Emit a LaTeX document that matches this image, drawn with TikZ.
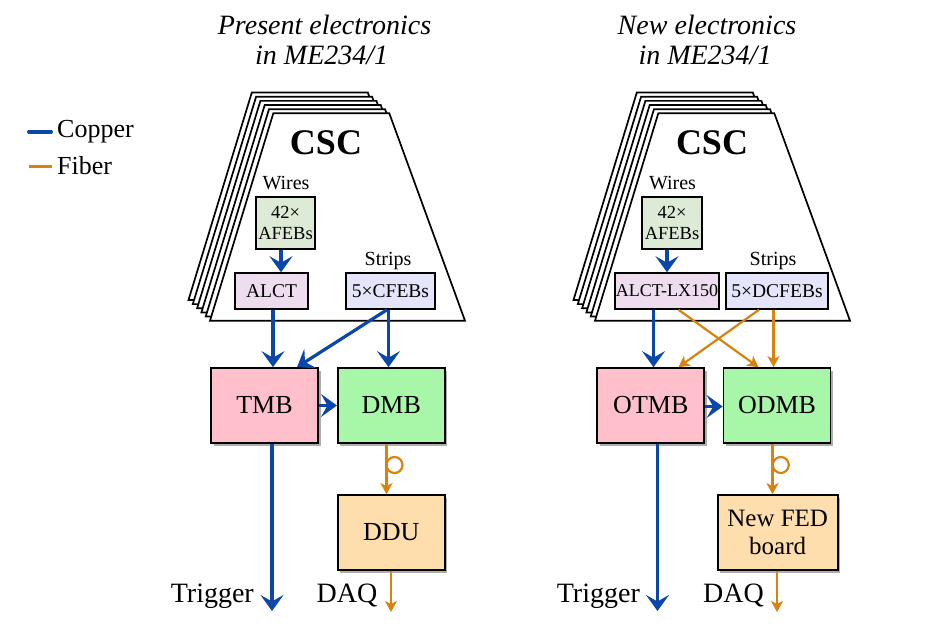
\documentclass[tikz,border=0pt]{standalone}
\usepackage{fontspec}
\setmainfont{Liberation Serif}
\usetikzlibrary{arrows.meta,shadows,calc}
\definecolor{cu}{HTML}{0A47A8}
\definecolor{fb}{HTML}{D9830F}
\definecolor{afebc}{HTML}{DCEAD6}
\definecolor{alctc}{HTML}{EEDDEE}
\definecolor{cfebc}{HTML}{E4E4FA}
\definecolor{tmbc}{HTML}{FFC0CB}
\definecolor{dmbc}{HTML}{A8F7A8}
\definecolor{dduc}{HTML}{FFDEAD}
\tikzset{
  fs/.style={font=\fontsize{#1}{#1}\selectfont},
  bigbox/.style={draw=black, line width=1.7pt, inner sep=0pt, minimum height=75pt,
     fs=26, align=center,
     drop shadow={shadow xshift=2.5pt, shadow yshift=-2.5pt, opacity=0.45, fill=black!70}},
  smallbox/.style={draw=black, line width=1.5pt, inner sep=0pt, minimum height=36pt, fs=19.5},
  copper/.style={draw=cu, line width=3.2pt, -{Stealth[length=16pt,width=23pt,inset=6.5pt]}},
  fiber/.style={draw=fb, line width=2.2pt, -{Stealth[length=11pt,width=12pt,inset=3pt]}},
  trap/.style={draw=black, line width=1.7pt, fill=white},
  lbl/.style={fs=20, inner sep=0pt, anchor=base},
  title/.style={font=\fontsize{28}{31}\selectfont\itshape, inner sep=0pt, anchor=base},
  bigtxt/.style={font=\fontsize{28}{28}\selectfont, inner sep=0pt},
}
\begin{document}
\begin{tikzpicture}[x=1pt,y=-1pt]
\useasboundingbox (0,0) rectangle (942,632);

% ---------- CSC stacks ----------
\foreach \ox in {0,385}{
  \foreach \k in {5,4,...,0}{
    \draw[trap] ({\ox+273.3-4.3*\k},{113.3-4.15*\k}) -- ({\ox+389.3-4.3*\k},{113.3-4.15*\k})
      -- ({\ox+465-4.3*\k},{320.7-4.15*\k}) -- ({\ox+210-4.3*\k},{320.7-4.15*\k}) -- cycle;
  }
}

% ---------- titles ----------
\node[title] (t1a) at (324.5,34) {Present electronics};
\node[title] (t1b) at (321.7,64) {in ME234/1};
\node[title] (t2a) at (707,34) {New electronics};
\node[title] (t2b) at (705,64) {in ME234/1};

% ---------- legend ----------
\coordinate (c1) at (29,131.5);
\coordinate (c2) at (51,131.5);
\draw[cu, line width=4pt, line cap=round] (c1) -- (c2);
\node[fs=26, anchor=base west, inner sep=0pt] (lc) at (57,137.5) {Copper};
\coordinate (f1) at (28.5,166.5);
\coordinate (f2) at (51.5,166.5);
\draw[fb, line width=2.8pt] (f1) -- (f2);
\node[fs=26, anchor=base west, inner sep=0pt] (lf) at (57,174) {Fiber};

% ---------- left diagram ----------
\node[font=\fontsize{36}{36}\selectfont\bfseries, inner sep=0pt, anchor=base] (csc1) at (326,154) {CSC};
\node[lbl] (w1) at (286,189.5) {Wires};
\node[lbl] (s1) at (388,265) {Strips};
\node[smallbox, fill=afebc, minimum width=59pt, minimum height=52pt, align=center,
      font=\fontsize{18.5}{21}\selectfont] (afeb1) at (285.5,223) {42×\\AFEBs};
\node[smallbox, fill=alctc, minimum width=73pt] (alct1) at (271.5,291) {ALCT};
\node[smallbox, fill=cfebc, minimum width=89pt] (cfeb1) at (390.5,291) {5×CFEBs};

\node[bigbox, fill=tmbc, minimum width=107pt] (tmb1) at (264.5,405.5) {TMB};
\node[bigbox, fill=dmbc, minimum width=107pt] (dmb1) at (391.3,405.5) {DMB};
\node[bigbox, fill=dduc, minimum width=107pt] (ddu1) at (391.3,532.5) {DDU};

\node[bigtxt, anchor=base east] (trig1) at (254,602) {Trigger};
\node[bigtxt, anchor=base] (daq1) at (347,602) {DAQ};
\coordinate (trigend1) at (272,611);
\coordinate (daqend1) at (391,612);

\draw[copper] (281,0 |- afeb1.south) -- (281,0 |- alct1.north);
\draw[copper] (273,0 |- alct1.south) -- (273,0 |- tmb1.north);
\draw[copper] (387,0 |- cfeb1.south) -- (297,0 |- tmb1.north);
\draw[copper] (388.5,0 |- cfeb1.south) -- (388.5,0 |- dmb1.north);
\draw[copper] (tmb1.east |- 0,405.5) -- (dmb1.west |- 0,405.5);
\draw[copper] (272,0 |- tmb1.south) -- (trigend1);
\draw[fiber] (386.5,0 |- dmb1.south) -- (386.5,0 |- ddu1.north);
\draw[fb, line width=2.2pt] (394.5,465) circle (8pt);
\draw[fiber] (391,0 |- ddu1.south) -- (daqend1);

% ---------- right diagram ----------
\node[font=\fontsize{36}{36}\selectfont\bfseries, inner sep=0pt, anchor=base] (csc2) at (712,154) {CSC};
\node[lbl] (w2) at (672.5,189.5) {Wires};
\node[lbl] (s2) at (773,265) {Strips};
\node[smallbox, fill=afebc, minimum width=60pt, minimum height=52pt, align=center,
      font=\fontsize{18.5}{21}\selectfont] (afeb2) at (672,223) {42×\\AFEBs};
\node[smallbox, fill=alctc, minimum width=104pt, font=\fontsize{18}{18}\selectfont] (alct2) at (667,291) {ALCT-LX150};
\node[smallbox, fill=cfebc, minimum width=102pt] (cfeb2) at (777,291) {5×DCFEBs};

\node[bigbox, fill=tmbc, minimum width=107pt] (tmb2) at (650.8,405.5) {OTMB};
\node[bigbox, fill=dmbc, minimum width=107pt] (dmb2) at (777,405.5) {ODMB};
\node[bigbox, fill=dduc, minimum width=120pt, font=\fontsize{25}{28}\selectfont] (ddu2) at (777.7,532.5) {New FED\\board};

\node[bigtxt, anchor=base east] (trig2) at (640,602) {Trigger};
\node[bigtxt, anchor=base] (daq2) at (733.5,602) {DAQ};
\coordinate (trigend2) at (657.5,611);
\coordinate (daqend2) at (777,612);

\draw[copper] (667,0 |- afeb2.south) -- (667,0 |- alct2.north);
\draw[copper] (653.5,0 |- alct2.south) -- (653.5,0 |- tmb2.north);
\draw[fiber] (678.5,0 |- alct2.south) -- (758.5,0 |- dmb2.north);
\draw[fiber] (759,0 |- cfeb2.south) -- (678.5,0 |- tmb2.north);
\draw[fiber] (773.5,0 |- cfeb2.south) -- (773.5,0 |- dmb2.north);
\draw[copper] (tmb2.east |- 0,406.5) -- (dmb2.west |- 0,406.5);
\draw[copper] (657.5,0 |- tmb2.south) -- (trigend2);
\draw[fiber] (772.5,0 |- dmb2.south) -- (772.5,0 |- ddu2.north);
\draw[fb, line width=2.2pt] (780.8,465) circle (8pt);
\draw[fiber] (777,0 |- ddu2.south) -- (daqend2);
\end{tikzpicture}
\end{document}
